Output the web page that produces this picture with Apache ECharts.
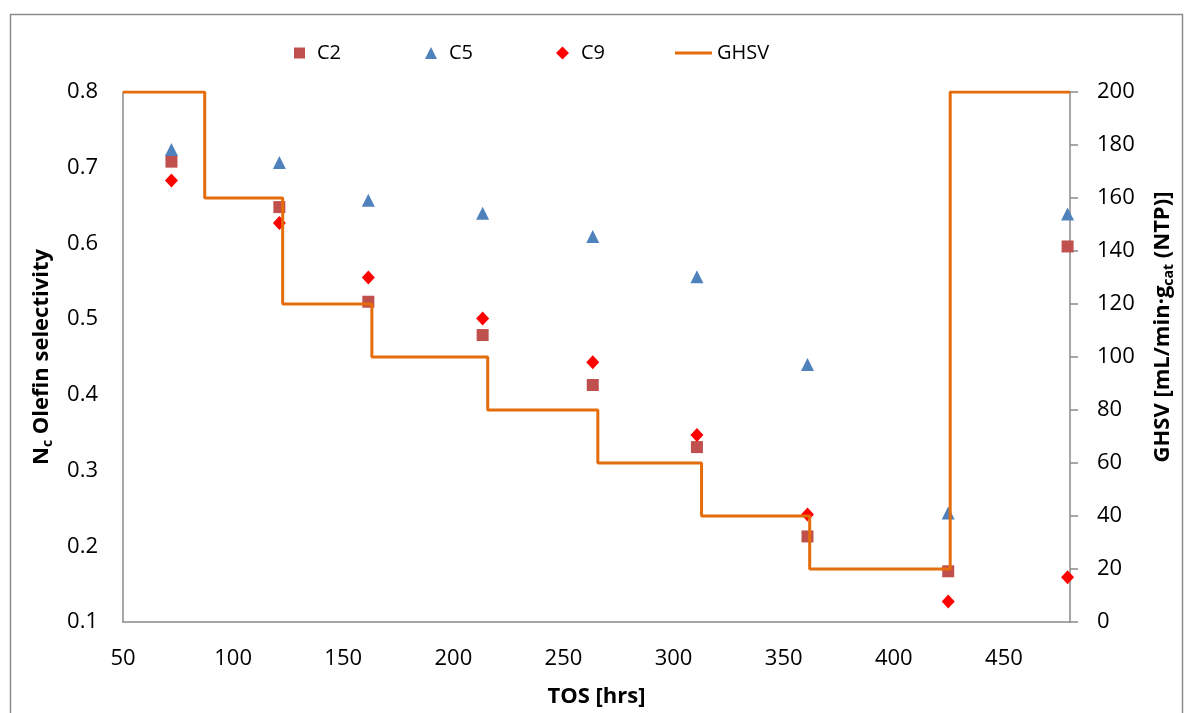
<!DOCTYPE html>
<html>
<head>
<meta charset="utf-8">
<script src="https://cdn.jsdelivr.net/npm/echarts@6/dist/echarts.min.js"></script>
<style>
html,body{margin:0;padding:0;background:#fff;}
#chart{width:1189px;height:713px;}
</style>
</head>
<body>
<div id="chart"></div>
<script>
// Time on stream (hrs) for the selectivity measurements
const tos = [72, 121, 161.4, 213.3, 263.3, 310.6, 360.8, 424.7, 478.9];
// Olefin selectivity per carbon number
const c2 = [0.708, 0.648, 0.523, 0.479, 0.413, 0.331, 0.213, 0.167, 0.596];
const c5 = [0.724, 0.707, 0.657, 0.640, 0.609, 0.556, 0.440, 0.244, 0.639];
const c9 = [0.683, 0.627, 0.555, 0.501, 0.443, 0.347, 0.242, 0.127, 0.159];
// GHSV setpoint changes (TOS at which the new value starts) – drawn as a step line
const ghsvTos = [50, 87.1, 122.5, 163, 215.6, 265.6, 312.7, 361.8, 425.6, 480];
const ghsvVal = [200, 160, 120, 100, 80, 60, 40, 20, 200, 200];

const FONT = '"Open Sans", "Noto Sans", sans-serif';
const AXIS_GRAY = '#8a8a8a';

const pairs = (xs, ys) => xs.map((x, i) => [x, ys[i]]);

const chart = echarts.init(document.getElementById('chart'), null, {renderer: 'canvas'});

function legendAt(item, left, itemWidth, itemHeight, padLeft) {
  return {
    data: [item], left: left, top: 38, itemWidth: itemWidth, itemHeight: itemHeight,
    textStyle: {fontFamily: FONT, fontSize: 20, color: '#000', padding: [0, 0, 0, padLeft]},
    selectedMode: false
  };
}

chart.setOption({
  animation: false,
  backgroundColor: '#fff',
  textStyle: {fontFamily: FONT},
  graphic: [{
    type: 'rect', left: 8, top: 12, silent: true,
    shape: {width: 1172, height: 720},
    style: {fill: 'none', stroke: '#8c8c8c', lineWidth: 1.5}
  }],
  legend: [
    legendAt('C2', 289, 11, 11, 7),
    legendAt('C5', 420, 12, 12, 7),
    legendAt('C9', 551, 13, 13, 7),
    legendAt({name: 'GHSV', icon: 'rect'}, 670, 37, 3, 0)
  ],
  grid: {left: 123, right: 119, top: 92, bottom: 87, containLabel: false},
  xAxis: {
    type: 'value', min: 50, max: 480, interval: 50,
    name: 'TOS [hrs]', nameLocation: 'middle', nameGap: 64,
    nameTextStyle: {fontFamily: FONT, fontSize: 22, fontWeight: 'bold', color: '#000'},
    axisLine: {show: true, onZero: false, lineStyle: {color: AXIS_GRAY, width: 1.5}},
    axisTick: {show: false},
    splitLine: {show: false},
    axisLabel: {fontFamily: FONT, fontSize: 22, color: '#000', margin: 26, showMaxLabel: false}
  },
  yAxis: [{
    type: 'value', min: 0.1, max: 0.8, interval: 0.1, position: 'left',
    name: '{b|N}{s|c}{b| Olefin selectivity}', nameLocation: 'middle', nameGap: 68, nameRotate: 90,
    nameTextStyle: {
      color: '#000',
      rich: {
        b: {fontFamily: FONT, fontSize: 22, fontWeight: 'bold', color: '#000'},
        s: {fontFamily: FONT, fontSize: 14, fontWeight: 'bold', color: '#000', padding: [12, 0, 0, 0]}
      }
    },
    axisLine: {show: true, lineStyle: {color: AXIS_GRAY, width: 1.5}},
    axisTick: {show: false},
    splitLine: {show: false},
    axisLabel: {fontFamily: FONT, fontSize: 22, color: '#000', margin: 25, formatter: v => v.toFixed(1)}
  }, {
    type: 'value', min: 0, max: 200, interval: 20, position: 'right',
    name: '{b|GHSV [mL/min·g}{s|cat}{b| (NTP)]}', nameLocation: 'middle', nameGap: 80, nameRotate: 90,
    nameTextStyle: {
      color: '#000',
      padding: [0, 0, 0, 60],
      rich: {
        b: {fontFamily: FONT, fontSize: 22, fontWeight: 'bold', color: '#000'},
        s: {fontFamily: FONT, fontSize: 14, fontWeight: 'bold', color: '#000', padding: [12, 0, 0, 0]}
      }
    },
    axisLine: {show: true, lineStyle: {color: AXIS_GRAY, width: 1.5}},
    axisTick: {show: true, inside: false, length: 8, lineStyle: {color: AXIS_GRAY, width: 1.5}},
    splitLine: {show: false},
    axisLabel: {fontFamily: FONT, fontSize: 22, color: '#000', margin: 27}
  }],
  series: [{
    name: 'C2', type: 'scatter', yAxisIndex: 0, symbol: 'rect', symbolSize: 12,
    itemStyle: {color: '#C0504D', opacity: 1}, data: pairs(tos, c2), z: 2
  }, {
    name: 'C5', type: 'scatter', yAxisIndex: 0, symbol: 'triangle', symbolSize: 13,
    itemStyle: {color: '#4F81BD', opacity: 1}, data: pairs(tos, c5), z: 2
  }, {
    name: 'C9', type: 'scatter', yAxisIndex: 0, symbol: 'diamond', symbolSize: [13, 14],
    itemStyle: {color: '#FF0000', opacity: 1}, data: pairs(tos, c9), z: 2
  }, {
    name: 'GHSV', type: 'line', yAxisIndex: 1, step: 'end', showSymbol: false, symbol: 'none',
    lineStyle: {color: '#E46C0A', width: 3}, itemStyle: {color: '#E46C0A'},
    data: pairs(ghsvTos, ghsvVal), z: 3
  }]
});
</script>
</body>
</html>
